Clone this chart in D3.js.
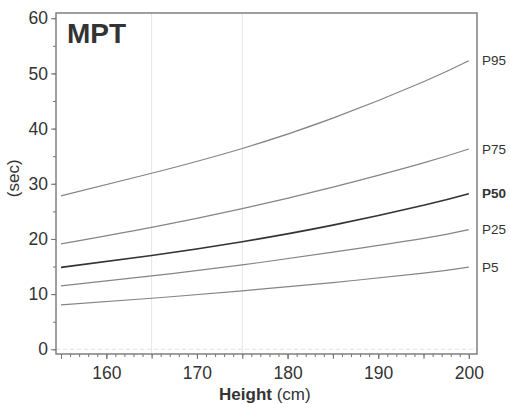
<!DOCTYPE html>
<html>
<head>
<meta charset="utf-8">
<script src="https://cdn.jsdelivr.net/npm/d3@7"></script>
<style>
  body { margin: 0; background: #fff; }
  text { font-family: "Liberation Sans", Arial, sans-serif; fill: #333; }
</style>
</head>
<body>
<script>
var heights = [155, 165, 175, 185, 195, 200];

// percentile curves (sec)
var p95 = [27.8, 31.9, 36.4, 41.9, 48.5, 52.3];
var p75 = [19.1, 22.1, 25.5, 29.4, 33.8, 36.3];
var p50 = [14.85, 17.0, 19.5, 22.5, 26.1, 28.2];
var p25 = [11.5, 13.3, 15.3, 17.6, 20.1, 21.7];
var p5  = [8.05, 9.25, 10.6, 12.1, 13.8, 14.9];

var seriesNames = ["P95", "P75", "P50", "P25", "P5"];
var seriesValues = [p95, p75, p50, p25, p5];

var xTicks = [160, 170, 180, 190, 200];
var yTicks = [0, 10, 20, 30, 40, 50, 60];
var gridX = [165, 175];

var frame = {left: 56, right: 477, top: 13, bottom: 354};

var x = d3.scaleLinear()
    .domain([154.45, 200.9])
    .range([frame.left, frame.right]);

var y = d3.scaleLinear()
    .domain([-0.85, 60.95])
    .range([frame.bottom, frame.top]);

var svg = d3.select("body").append("svg")
    .attr("width", 510)
    .attr("height", 404);

// faint grid
svg.selectAll("line.gridx")
    .data(gridX)
  .enter().append("line")
    .attr("class", "gridx")
    .attr("x1", function(d) { return x(d); })
    .attr("x2", function(d) { return x(d); })
    .attr("y1", frame.top)
    .attr("y2", frame.bottom)
    .attr("stroke", "#e6e6e6")
    .attr("stroke-width", 1);

svg.append("line")
    .attr("x1", frame.left)
    .attr("x2", frame.right)
    .attr("y1", y(0))
    .attr("y2", y(0))
    .attr("stroke", "#e2e2e2")
    .attr("stroke-dasharray", "4,3");

// x axis: minor ticks every cm, longer every 5
var xAxisMinor = d3.axisBottom(x)
    .tickValues(d3.range(155, 201, 1))
    .tickSize(3)
    .tickFormat("");

var xAxisMid = d3.axisBottom(x)
    .tickValues(d3.range(155, 201, 5))
    .tickSize(5)
    .tickFormat("");

var xAxis = d3.axisBottom(x)
    .tickValues(xTicks)
    .tickSize(5)
    .tickPadding(8)
    .tickFormat(d3.format("d"));

[xAxisMinor, xAxisMid, xAxis].forEach(function(ax) {
  svg.append("g")
      .attr("transform", "translate(0," + frame.bottom + ")")
      .call(ax)
      .call(function(g) { g.select(".domain").remove(); });
});

// y axis
var yAxisMinor = d3.axisLeft(y)
    .tickValues(d3.range(0, 61, 5))
    .tickSize(3)
    .tickFormat("");

var yAxis = d3.axisLeft(y)
    .tickValues(yTicks)
    .tickSize(5)
    .tickPadding(3)
    .tickFormat(d3.format("d"));

[yAxisMinor, yAxis].forEach(function(ax) {
  svg.append("g")
      .attr("transform", "translate(" + frame.left + ",0)")
      .call(ax)
      .call(function(g) { g.select(".domain").remove(); });
});

svg.selectAll(".tick line")
    .attr("stroke", "#777");

svg.selectAll(".tick text")
    .style("font-size", "17.5px")
    .style("font-family", "Liberation Sans, Arial, sans-serif")
    .attr("fill", "#333");

// frame
svg.append("rect")
    .attr("x", frame.left)
    .attr("y", frame.top)
    .attr("width", frame.right - frame.left)
    .attr("height", frame.bottom - frame.top)
    .attr("fill", "none")
    .attr("stroke", "#777")
    .attr("stroke-width", 1.4);

// curves
var line = d3.line()
    .x(function(d, i) { return x(heights[i]); })
    .y(function(d) { return y(d); })
    .curve(d3.curveNatural);

svg.selectAll("path.curve")
    .data(seriesValues)
  .enter().append("path")
    .attr("class", "curve")
    .attr("d", line)
    .attr("fill", "none")
    .attr("stroke", function(d, i) { return seriesNames[i] === "P50" ? "#333" : "#858585"; })
    .attr("stroke-width", function(d, i) { return seriesNames[i] === "P50" ? 1.6 : 1.2; });

// end labels
svg.selectAll("text.plabel")
    .data(seriesValues)
  .enter().append("text")
    .attr("class", "plabel")
    .attr("x", frame.right + 5)
    .attr("y", function(d) { return y(d[d.length - 1]); })
    .attr("dy", "0.35em")
    .style("font-size", "13.5px")
    .style("font-weight", function(d, i) { return seriesNames[i] === "P50" ? "bold" : "normal"; })
    .text(function(d, i) { return seriesNames[i]; });

// title inside the frame
svg.append("text")
    .attr("x", 67)
    .attr("y", 43)
    .style("font-size", "28px")
    .style("font-weight", "bold")
    .attr("fill", "#222")
    .text("MPT");

// axis titles
var xTitle = svg.append("text")
    .attr("x", x(177.5))
    .attr("y", 400)
    .attr("text-anchor", "middle")
    .style("font-size", "17px");
xTitle.append("tspan").style("font-weight", "bold").text("Height");
xTitle.append("tspan").text(" (cm)");

svg.append("text")
    .attr("transform", "translate(19," + y(31) + ") rotate(-90)")
    .attr("text-anchor", "middle")
    .style("font-size", "17px")
    .text("(sec)");
</script>
</body>
</html>
